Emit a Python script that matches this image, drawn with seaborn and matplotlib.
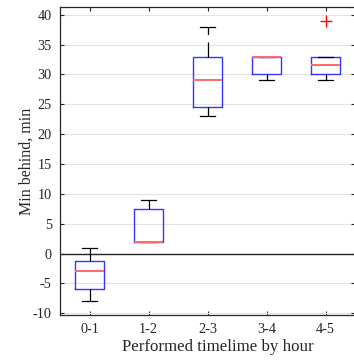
import matplotlib
matplotlib.use("Agg")
import matplotlib.pyplot as plt
import seaborn as sns
import pandas as pd

hours = ["0-1", "1-2", "2-3", "3-4", "4-5"]
vals_0_1 = [-8, -6, -3, -1.2, 1]
vals_1_2 = [2, 2, 2, 7.5, 9]
vals_2_3 = [23, 24.5, 29, 33, 38]
vals_3_4 = [29, 30, 33, 33, 33]
vals_4_5 = [29, 30, 30, 31, 31.5, 32, 33, 33, 39]
y_ticks = [-10, -5, 0, 5, 10, 15, 20, 25, 30, 35, 40]

groups = [vals_0_1, vals_1_2, vals_2_3, vals_3_4, vals_4_5]
df = pd.DataFrame({
    "hour": [h for h, g in zip(hours, groups) for _ in g],
    "minutes": [v for g in groups for v in g],
})

plt.rcParams["font.family"] = ["Liberation Serif", "DejaVu Serif"]
plt.rcParams["axes.unicode_minus"] = False

fig = plt.figure(figsize=(3.54, 3.61), dpi=100)
ax = fig.add_axes([60 / 354, 46 / 361, 295 / 354, 308 / 361])

ax.grid(True, color="#e3e3e3", lw=0.8, zorder=0)
ax.set_axisbelow(True)
ax.axhline(0, color="#262626", lw=1.0, zorder=1)

sns.boxplot(
    data=df, x="hour", y="minutes", order=hours, width=0.5, fill=False,
    whis=1.5, ax=ax, zorder=3,
    boxprops=dict(color="#3535ff", linewidth=1.0),
    medianprops=dict(color="#ff6a6a", linewidth=1.4),
    whiskerprops=dict(color="black", linewidth=0.9, linestyle=(0, (12, 6))),
    capprops=dict(color="black", linewidth=0.9),
    flierprops=dict(marker="+", markeredgecolor="red", markerfacecolor="red",
                    markersize=9, markeredgewidth=1.0),
)

ax.set_xlim(-0.5, 4.5)
ax.set_ylim(-10.3, 41.3)
ax.set_yticks(y_ticks)
ax.set_yticklabels([str(t) for t in y_ticks])
ax.set_xticks(range(len(hours)))
ax.set_xticklabels(hours)
ax.tick_params(axis="both", direction="in", length=3, width=0.8,
               labelsize=10.3, colors="#262626", top=True, right=True, pad=6)
ax.tick_params(axis="x", pad=6)
for s in ax.spines.values():
    s.set_color("#262626")
    s.set_linewidth(0.9)

ax.set_xlabel("Performed timelime by hour", fontsize=12.2, color="#262626",
              va="baseline")
ax.xaxis.set_label_coords(0.536, (315 - 351) / 308)
ax.set_ylabel("Min behind, min", fontsize=11.5, color="#262626", labelpad=-1.5)

fig.savefig("out.png", dpi=100)
